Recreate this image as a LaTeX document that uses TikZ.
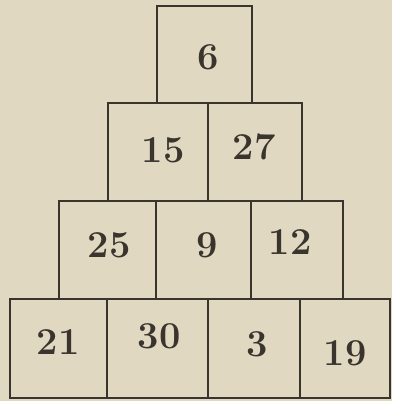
\documentclass[tikz,border=0pt]{standalone}
\definecolor{paper}{RGB}{224,216,192}
\definecolor{ink}{RGB}{58,52,46}
\begin{document}
\begin{tikzpicture}[x=1pt,y=-1pt,
  box/.style={draw=ink,line width=2.6pt,inner sep=0pt,outer sep=0pt,rectangle},
  num/.style={text=ink,inner sep=0pt,font=\fontsize{38}{38}\selectfont\bfseries}]
\fill[paper] (0,0) rectangle (392,401);
\useasboundingbox (0,0) rectangle (392,401);
% boxes
\node[box,minimum width=95pt,minimum height=97pt] (top) at (204.5,54.5) {};
\node[box,minimum width=100pt,minimum height=98pt] (b2a) at (158,152) {};
\node[box,minimum width=94pt,minimum height=98pt] (b2b) at (255,152) {};
\node[box,minimum width=97pt,minimum height=98pt] (b3a) at (107.5,250) {};
\node[box,minimum width=95pt,minimum height=98pt] (b3b) at (203.5,250) {};
\node[box,minimum width=92pt,minimum height=98pt] (b3c) at (297,250) {};
\node[box,minimum width=97pt,minimum height=99pt] (b4a) at (58.5,348.5) {};
\node[box,minimum width=101pt,minimum height=99pt] (b4b) at (157.5,348.5) {};
\node[box,minimum width=92pt,minimum height=99pt] (b4c) at (254,348.5) {};
\node[box,minimum width=90pt,minimum height=99pt] (b4d) at (345,348.5) {};
% numbers
\node[num] (n6) at (208,57) {6};
\node[num] (n15) at (163,150) {15};
\node[num] (n27) at (254,147) {27};
\node[num] (n25) at (109,245) {25};
\node[num] (n9) at (207,245) {9};
\node[num] (n12) at (290,242) {12};
\node[num] (n21) at (58,342) {21};
\node[num] (n30) at (159,336) {30};
\node[num] (n3) at (257,344) {3};
\node[num] (n19) at (345,353) {19};
\end{tikzpicture}
\end{document}
